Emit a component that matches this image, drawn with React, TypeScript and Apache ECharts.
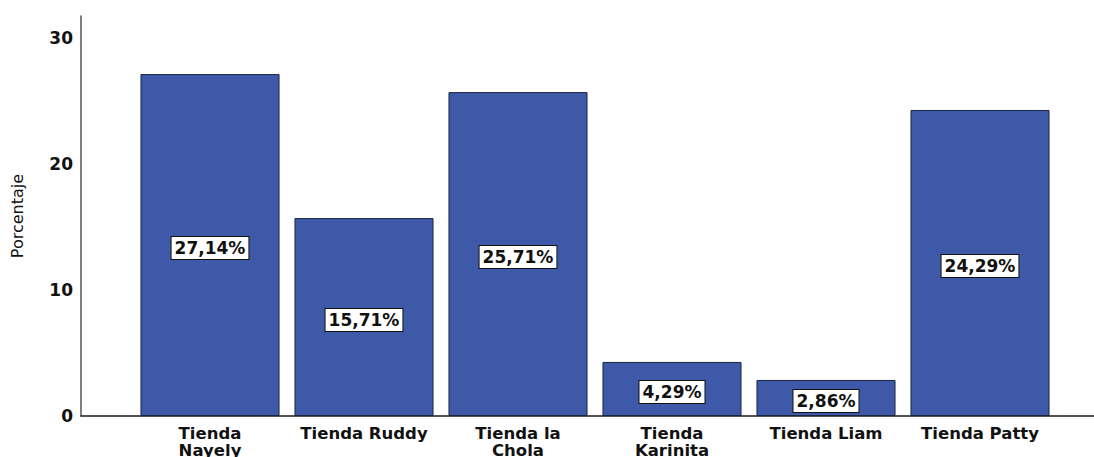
import React, { useEffect, useRef } from "react";
import * as echarts from "echarts";

const categories = ["Tienda\nNayely", "Tienda Ruddy", "Tienda la\nChola", "Tienda\nKarinita", "Tienda Liam", "Tienda Patty"];
const values = [27.14, 15.71, 25.71, 4.29, 2.86, 24.29];
const yTicks = [0, 10, 20, 30];
const yAxisTitle = "Porcentaje";

const Y_MAX = 31.75;

export default function App() {
  const ref = useRef<HTMLDivElement>(null);
  useEffect(() => {
    document.body.style.margin = "0";
    const chart = echarts.init(ref.current!, null, { renderer: "svg" });
    chart.setOption({
      animation: false,
      backgroundColor: "#ffffff",
      grid: [
        { left: 81, right: 0, top: 16, bottom: 41, outerBoundsMode: "none", containLabel: false },
        { left: 133, right: 37, top: 16, bottom: 41, outerBoundsMode: "none", containLabel: false },
      ],
      xAxis: [
        {
          gridIndex: 0,
          type: "value",
          min: 0,
          max: 1,
          axisLine: { show: true, lineStyle: { color: "#1a1a1a", width: 1.5 } },
          axisTick: { show: false },
          axisLabel: { show: false },
          splitLine: { show: false },
        },
        {
          gridIndex: 1,
          type: "category",
          data: categories,
          axisLine: { show: false },
          axisTick: { show: false },
          axisLabel: {
            margin: 9,
            color: "#111",
            fontFamily: "DejaVu Sans",
            fontWeight: "bold",
            fontSize: 16.5,
            lineHeight: 17,
            interval: 0,
          },
        },
      ],
      yAxis: [
        {
          gridIndex: 0,
          type: "value",
          min: 0,
          max: Y_MAX,
          interval: 10,
          name: yAxisTitle,
          nameLocation: "middle",
          nameGap: 56,
          nameTextStyle: { fontFamily: "DejaVu Sans", fontSize: 16, color: "#111" },
          axisLine: { show: true, lineStyle: { color: "#555", width: 1.5 } },
          axisTick: { show: false },
          splitLine: { show: false },
          axisLabel: {
            showMaxLabel: false,
            margin: 8,
            color: "#111",
            fontFamily: "DejaVu Sans",
            fontWeight: "bold",
            fontSize: 17,
            formatter: (v: number) => (yTicks.includes(v) ? String(v) : ""),
          },
        },
        {
          gridIndex: 1,
          type: "value",
          min: 0,
          max: Y_MAX,
          show: false,
          splitLine: { show: false },
        },
      ],
      series: [
        {
          type: "bar",
          xAxisIndex: 1,
          yAxisIndex: 1,
          data: values,
          barCategoryGap: "9.7%",
          itemStyle: { color: "#3e59a8", borderColor: "#1c2440", borderWidth: 1 },
          label: {
            show: true,
            position: "inside",
            offset: [0, 3],
            formatter: (p: any) => p.value.toFixed(2).replace(".", ",") + "%",
            color: "#111",
            fontFamily: "DejaVu Sans",
            fontWeight: "bold",
            fontSize: 17,
            backgroundColor: "#ffffff",
            borderColor: "#111",
            borderWidth: 1,
            padding: [3, 3, 2, 3],
          },
        },
      ],
    });
    return () => chart.dispose();
  }, []);
  return <div ref={ref} style={{ width: 1094, height: 457, position: "absolute", left: 0, top: 0 }} />;
}
